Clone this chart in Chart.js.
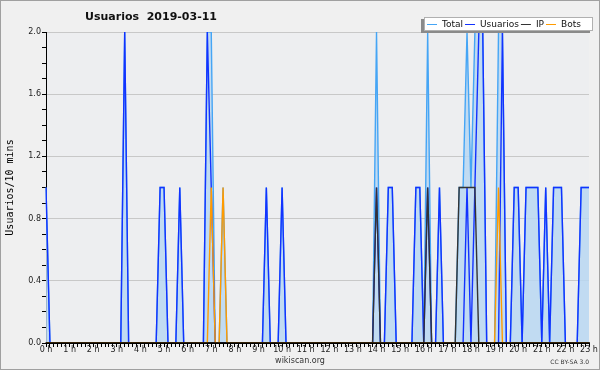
<!DOCTYPE html>
<html><head><meta charset="utf-8">
<script src="https://cdn.jsdelivr.net/npm/chart.js@4/dist/chart.umd.min.js"></script>
<style>html,body{margin:0;padding:0;background:#f0f0f0;}</style>
</head><body>
<canvas id="c" width="600" height="370"></canvas>
<script>
// Hour tick labels (every 6th slot of 10 minutes)
const hourTicks = ['0 h','1 h','2 h','3 h','4 h','5 h','6 h','7 h','8 h','9 h','10 h','11 h',
  '12 h','13 h','14 h','15 h','16 h','17 h','18 h','19 h','20 h','21 h','22 h','23 h'];

// Values per 10-minute slot, one row per hour (00:00 .. 23:00)
const total = [
  1,0,0,0,0,0, 0,0,0,0,0,0, 0,0,0,0,0,0, 0,0,2,0,0,0,
  0,0,0,0,0,1, 1,0,0,0,1,0, 0,0,0,0,0,2, 2,0,0,1,0,0,
  0,0,0,0,0,0, 0,0,1,0,0,0, 1,0,0,0,0,0, 0,0,0,0,0,0,
  0,0,0,0,0,0, 0,0,0,0,0,0, 2,0,0,1,1,0, 0,0,0,0,1,1,
  0,2,0,0,1,0, 0,0,0,1,1,2, 1,2,2,2,0,0, 0,2,2,0,0,1,
  1,0,1,1,1,1, 0,1,0,1,1,1, 0,0,0,0,1,1, 1];
const usuarios = [
  1,0,0,0,0,0, 0,0,0,0,0,0, 0,0,0,0,0,0, 0,0,2,0,0,0,
  0,0,0,0,0,1, 1,0,0,0,1,0, 0,0,0,0,0,2, 1,0,0,0,0,0,
  0,0,0,0,0,0, 0,0,1,0,0,0, 1,0,0,0,0,0, 0,0,0,0,0,0,
  0,0,0,0,0,0, 0,0,0,0,0,0, 1,0,0,1,1,0, 0,0,0,0,1,1,
  0,1,0,0,1,0, 0,0,0,0,0,1, 0,1,2,2,0,0, 0,0,2,0,0,1,
  1,0,1,1,1,1, 0,1,0,1,1,1, 0,0,0,0,1,1, 1];
const ip = [
  0,0,0,0,0,0, 0,0,0,0,0,0, 0,0,0,0,0,0, 0,0,0,0,0,0,
  0,0,0,0,0,0, 0,0,0,0,0,0, 0,0,0,0,0,0, 0,0,0,0,0,0,
  0,0,0,0,0,0, 0,0,0,0,0,0, 0,0,0,0,0,0, 0,0,0,0,0,0,
  0,0,0,0,0,0, 0,0,0,0,0,0, 1,0,0,0,0,0, 0,0,0,0,0,0,
  0,1,0,0,0,0, 0,0,0,1,1,1, 1,1,0,0,0,0, 0,0,0,0,0,0,
  0,0,0,0,0,0, 0,0,0,0,0,0, 0,0,0,0,0,0, 0];
const bots = [
  0,0,0,0,0,0, 0,0,0,0,0,0, 0,0,0,0,0,0, 0,0,0,0,0,0,
  0,0,0,0,0,0, 0,0,0,0,0,0, 0,0,0,0,0,0, 1,0,0,1,0,0,
  0,0,0,0,0,0, 0,0,0,0,0,0, 0,0,0,0,0,0, 0,0,0,0,0,0,
  0,0,0,0,0,0, 0,0,0,0,0,0, 0,0,0,0,0,0, 0,0,0,0,0,0,
  0,0,0,0,0,0, 0,0,0,0,0,0, 0,0,0,0,0,0, 0,1,0,0,0,0,
  0,0,0,0,0,0, 0,0,0,0,0,0, 0,0,0,0,0,0, 0];

const slots = [];
for (let h = 0; h < hourTicks.length; h++) {
  for (let m = 0; m < 60; m += 10) slots.push(h + ':' + (m === 0 ? '00' : m));
}
slots.length = total.length;

const seriesNames = ['Total', 'Usuarios', 'IP', 'Bots'];
const seriesColors = ['#45a5f5', '#1232ff', '#333333', '#ff9b00'];

const bgPlugin = {
  id: 'bg',
  beforeDraw(chart) {
    const c = chart.ctx, a = chart.chartArea;
    c.save();
    c.fillStyle = '#f0f0f0';
    c.fillRect(0, 0, chart.width, chart.height);
    c.strokeStyle = '#a0a0a0';
    c.lineWidth = 1;
    c.strokeRect(0.5, 0.5, chart.width - 1, chart.height - 1);
    c.fillStyle = '#edeef0';
    c.fillRect(a.left, a.top, a.right - a.left, a.bottom - a.top);
    c.restore();
  },
  afterDatasetsDraw(chart) {
    const c = chart.ctx, a = chart.chartArea;
    c.save();
    c.strokeStyle = '#000';
    c.lineWidth = 1.6;
    c.beginPath();
    c.moveTo(a.left - 0.5, a.bottom);
    c.lineTo(a.right + 1, a.bottom);
    c.stroke();
    c.restore();
  },
  afterDraw(chart) {
    const c = chart.ctx;
    c.save();
    // title
    c.fillStyle = '#111';
    c.font = 'bold 11px "DejaVu Sans"';
    c.textAlign = 'center';
    c.textBaseline = 'middle';
    c.fillText('Usuarios  2019-03-11', 151, 17);
    // footer
    c.font = '8px "DejaVu Sans"';
    c.fillStyle = '#333';
    c.fillText('wikiscan.org', 300, 361);
    c.font = '6px "DejaVu Sans"';
    c.textAlign = 'right';
    c.fillText('CC BY-SA 3.0', 589, 362);
    // legend
    const bx = 424, by = 17, bw = 169, bh = 14;
    c.fillStyle = '#8a8a8a';
    c.fillRect(bx - 3, by + 2, bw, bh);
    c.fillStyle = '#ffffff';
    c.fillRect(bx, by, bw, bh);
    c.strokeStyle = '#b0b0b0';
    c.strokeRect(bx + 0.5, by + 0.5, bw - 1, bh - 1);
    c.font = '9px "DejaVu Sans"';
    c.textAlign = 'left';
    c.textBaseline = 'middle';
    let x = bx + 3;
    const ty = by + bh / 2 + 0.5;
    chart.data.datasets.forEach((ds) => {
      c.strokeStyle = ds.borderColor;
      c.lineWidth = 1;
      c.beginPath();
      c.moveTo(x, ty);
      c.lineTo(x + 10, ty);
      c.stroke();
      x += 15;
      c.fillStyle = '#111';
      c.fillText(ds.label, x, ty);
      x += c.measureText(ds.label).width + 2;
    });
    c.restore();
  }
};

const isMajor = v => Math.abs(v / 0.4 - Math.round(v / 0.4)) < 1e-6;

new Chart(document.getElementById('c'), {
  type: 'line',
  data: {
    labels: slots,
    datasets: [
      { label: seriesNames[0], data: total, borderColor: seriesColors[0], backgroundColor: 'rgba(185,215,242,0.85)', fill: 'origin', order: 4 },
      { label: seriesNames[1], data: usuarios, borderColor: seriesColors[1], fill: false, order: 3 },
      { label: seriesNames[2], data: ip, borderColor: seriesColors[2], fill: false, order: 2 },
      { label: seriesNames[3], data: bots, borderColor: seriesColors[3], fill: false, order: 1 }
    ]
  },
  options: {
    responsive: false, animation: false, devicePixelRatio: 1,
    elements: { point: { radius: 0 }, line: { borderWidth: 1.4, tension: 0 } },
    layout: { padding: { left: 0, top: 32, right: 11, bottom: 0 } },
    plugins: { legend: { display: false }, tooltip: { enabled: false }, title: { display: false } },
    scales: {
      x: {
        type: 'category', offset: false,
        grid: { display: true, drawOnChartArea: false, tickLength: 4, tickColor: '#000' },
        border: { color: '#000', width: 1 },
        ticks: { autoSkip: false, maxRotation: 0, minRotation: 0, padding: -2, color: '#222',
          font: { family: 'DejaVu Sans', size: 8 },
          callback: (v, i) => (i % 6 === 0 ? hourTicks[i / 6] : '') },
        afterFit: s => { s.height = 27; }
      },
      y: {
        min: 0, max: 2,
        grid: { color: c => (isMajor(c.tick.value) ? '#c8c8c8' : 'rgba(0,0,0,0)'), tickColor: '#000', tickLength: 4 },
        border: { color: '#000', width: 1 },
        ticks: { stepSize: 0.1, autoSkip: false, padding: 1, color: '#222',
          font: { family: 'DejaVu Sans', size: 8 },
          callback: v => (isMajor(v) ? v.toFixed(1) : '') },
        title: { display: true, text: 'Usuarios/10 mins', color: '#000',
          font: { family: 'DejaVu Sans Mono', size: 10 }, padding: { top: 4, bottom: 0 } },
        afterFit: s => { s.width = 46; }
      }
    }
  },
  plugins: [bgPlugin]
});
</script>
</body></html>
